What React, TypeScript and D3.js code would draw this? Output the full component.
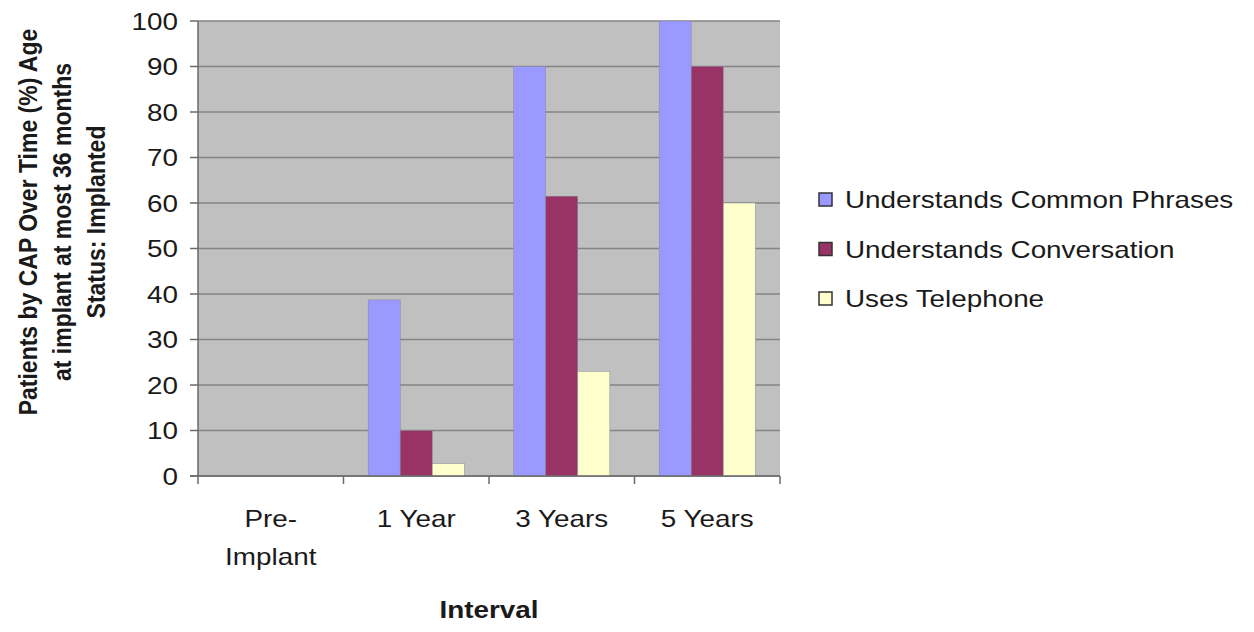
import React from "react";
import * as d3 from "d3";

const categories = ["Pre-Implant", "1 Year", "3 Years", "5 Years"];
const categoryLines = [["Pre-", "Implant"], ["1 Year"], ["3 Years"], ["5 Years"]];
const seriesNames = ["Understands Common Phrases", "Understands Conversation", "Uses Telephone"];
const commonPhrases = [0, 38.7, 90, 100];
const conversation = [0, 10, 61.5, 90];
const telephone = [0, 2.7, 23, 60];
const seriesValues = [commonPhrases, conversation, telephone];
const seriesColors = ["#9999FF", "#993366", "#FFFFCC"];
const yTicks = [0, 10, 20, 30, 40, 50, 60, 70, 80, 90, 100];
const yTitleLines = ["Patients by CAP Over Time (%) Age", "at implant at most 36 months", "Status: Implanted"];
const xTitle = "Interval";

const W = 1254, H = 632;
const left = 198, right = 780, top = 21, bottom = 476;
const SX = 1.16;
const font = "'Liberation Sans', Arial, sans-serif";
const textColor = "#1a1a1a";

export default function App() {
  const x0 = d3.scaleBand<string>().domain(categories).range([left, right]).padding(0);
  const x1 = d3.scaleBand<string>().domain(seriesNames).range([0, x0.bandwidth()]).paddingInner(0).paddingOuter(0.77);
  const y = d3.scaleLinear().domain([0, 100]).range([bottom, top]);

  return (
    <svg width={W} height={H} style={{ position: "absolute", left: 0, top: 0, background: "#fff" }}>
      <rect x={left} y={top} width={right - left} height={bottom - top} fill="#C0C0C0" />
      {yTicks.map((t) => (
        <line key={"g" + t} x1={left} x2={right} y1={y(t)} y2={y(t)} stroke="#858585" strokeWidth={1.5} />
      ))}
      {categories.map((c, ci) =>
        seriesNames.map((s, si) => {
          const v = seriesValues[si][ci];
          if (v <= 0) return null;
          const bx = (x0(c) as number) + (x1(s) as number);
          return (
            <rect key={c + s} x={bx} y={y(v)} width={x1.bandwidth()} height={y(0) - y(v)}
              fill={seriesColors[si]} stroke="#8a8a9a" strokeWidth={0.5} />
          );
        })
      )}
      {/* axes */}
      <line x1={left} x2={left} y1={top} y2={bottom} stroke="#6a6a6a" strokeWidth={1.5} />
      <line x1={left - 8} x2={right} y1={bottom} y2={bottom} stroke="#6a6a6a" strokeWidth={1.5} />
      {yTicks.map((t) => (
        <g key={"t" + t}>
          <line x1={left - 8} x2={left} y1={y(t)} y2={y(t)} stroke="#6a6a6a" strokeWidth={1.5} />
          <g transform={`translate(${178},${y(t) + 8.5}) scale(${SX},1)`}>
            <text textAnchor="end" fontFamily={font} fontSize={24} fill={textColor}>{t}</text>
          </g>
        </g>
      ))}
      {[...categories.map((c) => x0(c) as number), right].map((xv, i) => (
        <line key={"xt" + i} x1={xv} x2={xv} y1={bottom} y2={bottom + 8} stroke="#6a6a6a" strokeWidth={1.5} />
      ))}
      {categories.map((c, ci) => {
        const cx = (x0(c) as number) + x0.bandwidth() / 2;
        return categoryLines[ci].map((ln, li) => (
          <g key={c + li} transform={`translate(${cx},${527 + li * 38}) scale(${SX},1)`}>
            <text textAnchor="middle" fontFamily={font} fontSize={24} fill={textColor}>{ln}</text>
          </g>
        ));
      })}
      <g transform={`translate(${(left + right) / 2},${618}) scale(${SX},1)`}>
        <text textAnchor="middle" fontFamily={font} fontSize={24} fontWeight="bold" fill={textColor}>{xTitle}</text>
      </g>
      {yTitleLines.map((ln, i) => (
        <g key={"yt" + i} transform={`translate(${37 + i * 34},${222}) scale(${SX},1) rotate(-90)`}>
          <text textAnchor="middle" fontFamily={font} fontSize={23} fontWeight="bold" fill={textColor}>{ln}</text>
        </g>
      ))}
      {/* legend */}
      {seriesNames.map((s, i) => (
        <g key={"lg" + i}>
          <rect x={819} y={193 + i * 49.5} width={13} height={13} fill={seriesColors[i]} stroke="#333" strokeWidth={1.5} />
          <g transform={`translate(${845},${208 + i * 49.5}) scale(${SX},1)`}>
            <text fontFamily={font} fontSize={24} fill={textColor}>{s}</text>
          </g>
        </g>
      ))}
    </svg>
  );
}
